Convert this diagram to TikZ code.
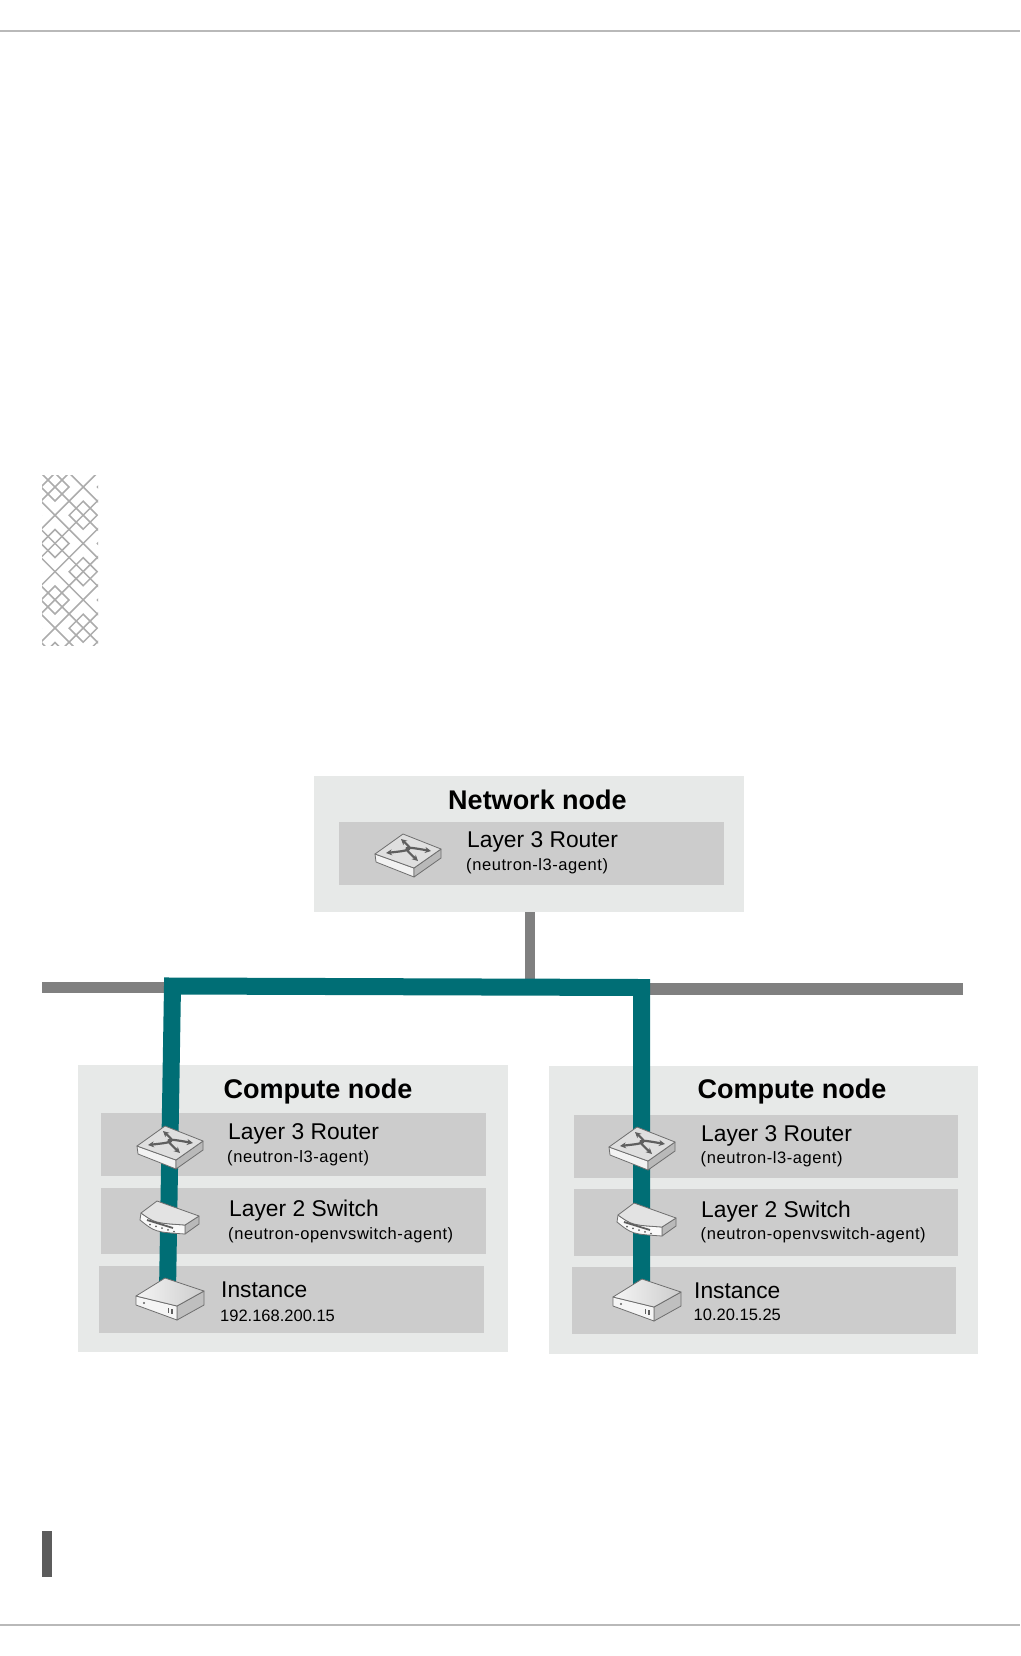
\documentclass[tikz,border=0pt]{standalone}
\usepackage{fontspec}
\setmainfont{Liberation Sans}
\newfontfamily\agentfont[LetterSpace=3.5]{Liberation Sans}
\usepackage{xcolor}
\usepackage{tikz}
\usetikzlibrary{arrows.meta, calc, positioning}
\definecolor{myteal}{RGB}{0, 110, 117}
\definecolor{mybus}{RGB}{128, 128, 128}
\definecolor{myouter}{RGB}{231, 233, 232}
\definecolor{myinner}{RGB}{204, 204, 204}
\definecolor{myedge}{RGB}{110, 110, 110}
\definecolor{myglyph}{RGB}{95, 95, 95}
\tikzset{
    outerbox/.style={fill=myouter, anchor=north west, inner sep=0pt, outer sep=0pt, minimum width=430pt},
    innerbox/.style={fill=myinner, anchor=north west, inner sep=0pt, outer sep=0pt, minimum width=384.5pt},
    titletext/.style={anchor=base, inner sep=0pt, font=\fontsize{27}{30}\selectfont\bfseries},
    roletext/.style={anchor=base west, inner sep=0pt, font=\fontsize{22.8}{25}\selectfont},
    agenttext/.style={anchor=base west, inner sep=0pt, font=\agentfont\fontsize{16.5}{19}\selectfont},
    iptext/.style={anchor=base west, inner sep=0pt, font=\fontsize{16.5}{19}\selectfont},
    busline/.style={mybus, line width=11pt},
    tealline/.style={myteal, line width=17pt},
    routericon/.pic={
        \draw[myedge, line width=0.8pt, line join=round, fill=gray!10] (0,20) -- (39,34) -- (39,43) -- (1,28) -- cycle;
        \draw[myedge, line width=0.8pt, line join=round, fill=gray!55] (39,34) -- (66,15) -- (66,24) -- (39,43) -- cycle;
        \draw[myedge, line width=0.8pt, line join=round, fill=gray!25] (0,20) -- (28,0) -- (66,15) -- (39,34) -- cycle;
        \draw[myglyph, line width=2.2pt, {Stealth[length=6pt, width=6pt]}-{Stealth[length=6pt, width=6pt]}] (11,19) .. controls (38,16) .. (26,5);
        \draw[myglyph, line width=2.2pt, {Stealth[length=6pt, width=6pt]}-{Stealth[length=6pt, width=6pt]}] (56,17) .. controls (27,12) .. (43,27);
    },
    switchicon/.pic={
        \draw[myedge, line width=0.8pt, line join=round, fill=gray!55] (46,24) -- (60,15) -- (60,23) -- (46,33) -- cycle;
        \draw[myedge, line width=0.8pt, line join=round, fill=gray!5] (2,12) .. controls (16,22) .. (46,24) -- (46,33) .. controls (16,31) .. (1,19) -- cycle;
        \draw[myedge, line width=0.8pt, line join=round, fill=gray!22] (2,12) -- (18,0) -- (60,15) -- (46,24) .. controls (16,22) .. (2,12) -- cycle;
        \draw[myglyph, line width=1.8pt] (8,19) -- (34,27);
        \foreach \dotx in {0,1,2,3,4}
            \fill[myglyph] ({11+\dotx*6},{23.5+\dotx*1.8}) circle (1pt);
    },
    instanceicon/.pic={
        \draw[myedge, line width=0.8pt, line join=round, fill=gray!50] (41,28) -- (68,13) -- (68,27) -- (41,42) -- cycle;
        \draw[myedge, line width=0.8pt, line join=round, fill=gray!8] (0,18) -- (41,28) -- (41,42) -- (0,27) -- cycle;
        \draw[myedge, line width=0.8pt, line join=round, left color=gray!8, right color=gray!40] (0,18) -- (29,0) -- (68,13) -- (41,28) -- cycle;
        \fill[myglyph] (8,25) circle (1.2pt);
        \fill[myglyph] (31.5,29.5) rectangle (33.2,35);
        \fill[myglyph] (35,30.5) rectangle (36.7,36);
    }
}

\begin{document}
\begin{tikzpicture}[x=1pt, y=-1pt]
    \useasboundingbox (0,0) rectangle (1020,1656);

    % Page Rules
    \draw[gray!55, line width=2pt] (0,31) -- (1020,31);
    \draw[gray!55, line width=2pt] (0,1625) -- (1020,1625);
    \fill[gray!30!black!75] (42,1531) rectangle (52,1577);

    % Hatch Tile
    \begin{scope}[gray!65, line width=1.5pt]
        \clip (42,475) rectangle (98,645);
        \foreach \i in {-8,...,8} {
            \draw ({55+\i*28.2},487) -- ++(220,220);
            \draw ({55+\i*28.2},487) -- ++(-220,220);
            \draw ({55+\i*28.2},487) -- ++(220,-220);
            \draw ({55+\i*28.2},487) -- ++(-220,-220);
        }
        \foreach \cx/\cy in {55/487, 55/543.5, 55/600, 83.2/515.2, 83.2/571.7, 83.2/628.2, 111.4/487, 111.4/543.5, 111.4/600, 27/515.2, 27/571.7, 27/628.2, 55/656.5, 83.2/458.7}
            \draw (\cx-14,\cy) -- (\cx,\cy-14) -- (\cx+14,\cy) -- (\cx,\cy+14) -- cycle;
    \end{scope}

    % Network Node
    \node[outerbox, minimum height=136pt] (netbox) at (314,776) {};
    \node[innerbox, minimum height=63pt] (netrouter) at (339,822) {};
    \node[titletext] (nettitle) at (537.5,809) {Network node};
    \node[roletext] (netrole) at (467,847) {Layer 3 Router};
    \node[agenttext] (netagent) at (466,870) {(neutron-l3-agent)};

    % Compute Nodes
    \node[outerbox, minimum height=287pt] (boxA) at (78,1065) {};
    \node[innerbox, minimum height=63pt] (routerA) at (101,1113) {};
    \node[innerbox, minimum height=66pt] (switchA) at (101,1188) {};
    \node[innerbox, minimum height=67pt] (instanceA) at (99,1266) {};
    \node[outerbox, minimum height=288pt, minimum width=429pt] (boxB) at (548.5,1066) {};
    \node[innerbox, minimum height=63pt] (routerB) at (573.5,1115) {};
    \node[innerbox, minimum height=67pt] (switchB) at (573.5,1189) {};
    \node[innerbox, minimum height=67pt] (instanceB) at (571.5,1267) {};

    % Draw Bus
    \coordinate (busleft) at (42,987.5);
    \coordinate (busright) at (963,989);
    \coordinate (busjoin) at (530,985);
    \coordinate (cornerA) at (172.5,986);
    \coordinate (cornerB) at (641.5,987.5);
    \coordinate (tealA) at (167.5,1292);
    \coordinate (tealB) at (641.5,1292);
    \draw[busline] (busleft) -- (busleft -| cornerA);
    \draw[busline, line width=12pt] (busright) -- (busright -| cornerB);
    \draw[busline, line width=10pt] ([xshift=1pt]netbox.south) -- (busjoin);

    % Draw Teal Path
    \draw[tealline] (tealA) -- (cornerA) -- (cornerB) -- (tealB);

    % Icons
    \pic (iconnet) at (375,834) {routericon};
    \pic (iconrouterA) at (137,1126) {routericon};
    \pic (iconswitchA) at (139,1201) {switchicon};
    \pic (iconinstanceA) at (136,1278) {instanceicon};
    \pic (iconrouterB) at (609,1127) {routericon};
    \pic (iconswitchB) at (616,1203) {switchicon};
    \pic (iconinstanceB) at (613,1279) {instanceicon};

    % Labels Left
    \node[titletext] (titleA) at (318,1098) {Compute node};
    \node[roletext] (roleAa) at (228,1139) {Layer 3 Router};
    \node[agenttext] (agentAa) at (227,1162.5) {(neutron-l3-agent)};
    \node[roletext] (roleAb) at (229,1216) {Layer 2 Switch};
    \node[agenttext] (agentAb) at (228,1239.5) {(neutron-openvswitch-agent)};
    \node[roletext] (roleAc) at (221,1297) {Instance};
    \node[iptext] (ipA) at (220,1321.5) {192.168.200.15};

    % Labels Right
    \node[titletext] (titleB) at (792,1098) {Compute node};
    \node[roletext] (roleBa) at (701,1141) {Layer 3 Router};
    \node[agenttext] (agentBa) at (700.5,1163.5) {(neutron-l3-agent)};
    \node[roletext] (roleBb) at (701,1217) {Layer 2 Switch};
    \node[agenttext] (agentBb) at (700.5,1239.5) {(neutron-openvswitch-agent)};
    \node[roletext] (roleBc) at (694,1298) {Instance};
    \node[iptext] (ipB) at (693.5,1320.5) {10.20.15.25};
\end{tikzpicture}
\end{document}
